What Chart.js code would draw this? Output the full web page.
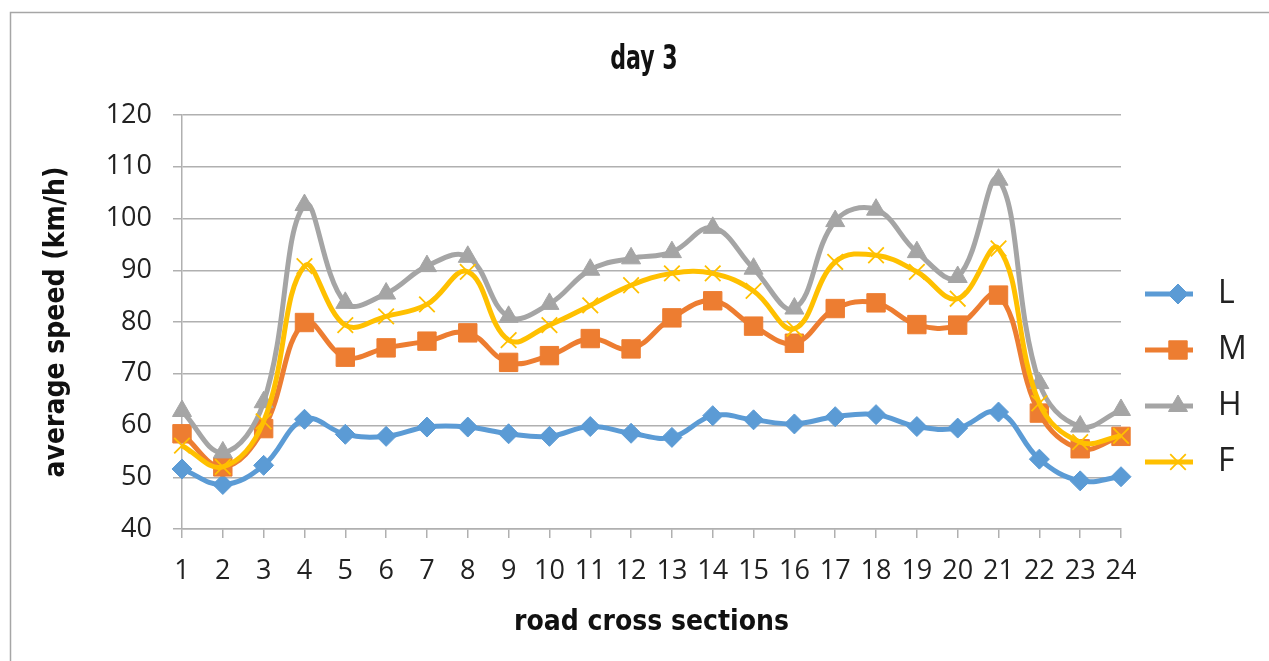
<!DOCTYPE html>
<html>
<head>
<meta charset="utf-8">
<script src="https://cdn.jsdelivr.net/npm/chart.js"></script>
<style>
  html, body { margin: 0; padding: 0; background: #fff; }
  #wrap { width: 1269px; height: 661px; }
</style>
</head>
<body>
<div id="wrap"><canvas id="chart" width="1269" height="661"></canvas></div>
<script>
// values
const sections = ["1","2","3","4","5","6","7","8","9","10","11","12","13","14","15","16","17","18","19","20","21","22","23","24"];
const speedL = [51.6, 48.6, 52.3, 61.2, 58.3, 57.9, 59.7, 59.7, 58.4, 57.9, 59.8, 58.5, 57.7, 61.9, 61.1, 60.3, 61.7, 62.1, 59.8, 59.5, 62.6, 53.5, 49.3, 50.1];
const speedM = [58.4, 52.0, 59.4, 79.9, 73.2, 75.0, 76.3, 77.9, 72.2, 73.5, 76.8, 74.8, 80.8, 84.1, 79.2, 75.9, 82.6, 83.7, 79.5, 79.4, 85.2, 62.4, 55.5, 57.9];
const speedH = [62.8, 54.8, 64.5, 102.6, 83.7, 85.5, 90.8, 92.6, 81.0, 83.5, 90.1, 92.3, 93.5, 98.2, 90.3, 82.6, 99.5, 101.7, 93.5, 88.7, 107.5, 68.2, 59.8, 63.0];
const speedF = [56.1, 52.0, 60.8, 90.8, 79.4, 81.1, 83.4, 89.7, 76.5, 79.4, 83.2, 87.1, 89.4, 89.4, 86.0, 78.7, 91.6, 92.9, 89.7, 84.5, 94.2, 64.3, 56.8, 58.0];
const yMin = 40, yMax = 120, yStep = 10;

const narrow = '"Liberation Sans Narrow", "DejaVu Sans Condensed", "Arial Narrow", sans-serif';
const plain = '"Open Sans", "Liberation Sans", sans-serif';
const gridGrey = "#b0b0b0";

function series(label, data, color, style, radius, order) {
  return {
    label: label,
    data: data,
    borderColor: color,
    backgroundColor: color,
    borderWidth: 5,
    tension: 0.4,
    pointStyle: style,
    pointRadius: radius,
    pointHoverRadius: radius,
    pointBackgroundColor: color,
    pointBorderColor: color,
    pointBorderWidth: style === "crossRot" ? 1.8 : 1,
    clip: false,
    order: order
  };
}

const datasets = [
  series("L", speedL, "#5b9bd5", "rectRot", 10, 4),
  series("M", speedM, "#ed7d31", "rect", 13, 3),
  series("H", speedH, "#a5a5a5", "triangle", 11, 2),
  series("F", speedF, "#ffc000", "crossRot", 11, 1)
];

// frame, chart title and the legend on the right
const decor = {
  id: "decor",
  beforeDraw(chart) {
    const ctx = chart.ctx;
    ctx.save();
    ctx.strokeStyle = "#a6a6a6";
    ctx.lineWidth = 1.5;
    ctx.beginPath();
    ctx.moveTo(10.5, 700);
    ctx.lineTo(10.5, 12.5);
    ctx.lineTo(1300, 12.5);
    ctx.stroke();
    ctx.restore();
  },
  afterDraw(chart) {
    const ctx = chart.ctx;
    ctx.save();
    // narrow bold title, squeezed a little
    ctx.save();
    ctx.translate(644, 60);
    ctx.scale(0.82, 1.1);
    ctx.fillStyle = "#111";
    ctx.font = "bold 30px " + narrow;
    ctx.textAlign = "center";
    ctx.textBaseline = "middle";
    ctx.fillText("day 3", 0, 0);
    ctx.restore();

    const rows = [294, 350, 406, 462];
    chart.data.datasets.forEach((ds, i) => {
      const y = rows[i];
      ctx.strokeStyle = ds.borderColor;
      ctx.lineWidth = 5;
      ctx.beginPath();
      ctx.moveTo(1145, y);
      ctx.lineTo(1193, y);
      ctx.stroke();
      ctx.fillStyle = ds.pointBackgroundColor;
      ctx.strokeStyle = ds.pointBorderColor;
      ctx.lineWidth = ds.pointBorderWidth;
      Chart.helpers.drawPoint(ctx, { pointStyle: ds.pointStyle, radius: ds.pointRadius, borderWidth: ds.pointBorderWidth, rotation: 0 }, 1178, y);
      ctx.fillStyle = "#222";
      ctx.font = "32px " + plain;
      ctx.textAlign = "left";
      ctx.textBaseline = "middle";
      ctx.fillText(ds.label, 1218, y);
    });
    ctx.restore();
  }
};

new Chart(document.getElementById("chart"), {
  type: "line",
  data: { labels: sections, datasets: datasets },
  plugins: [decor],
  options: {
    responsive: false,
    animation: false,
    devicePixelRatio: 1,
    layout: { padding: { top: 115, right: 148, left: 0, bottom: 0 } },
    plugins: {
      legend: { display: false },
      title: { display: false },
      tooltip: { enabled: false }
    },
    scales: {
      x: {
        type: "category",
        offset: false,
        afterFit(scale) { scale.height = 132; },
        grid: { drawOnChartArea: false, drawTicks: true, tickLength: 9, color: gridGrey, lineWidth: 1.5 },
        border: { display: true, color: gridGrey, width: 1.5 },
        ticks: { color: "#222", font: { family: plain, size: 27 }, padding: 17, autoSkip: false, maxRotation: 0 },
        title: { display: true, text: "road cross sections", color: "#111", font: { family: narrow, size: 28, weight: "bold" }, padding: { top: 0, bottom: 21 } }
      },
      y: {
        min: yMin,
        max: yMax,
        afterFit(scale) { scale.width = 182; },
        ticks: { stepSize: yStep, color: "#222", font: { family: plain, size: 27 }, padding: 21 },
        grid: { color: gridGrey, lineWidth: 1.5, tickLength: 9 },
        border: { display: true, color: gridGrey, width: 1.5 },
        title: { display: true, text: "average speed (km/h)", color: "#111", font: { family: narrow, size: 28, weight: "bold" }, padding: { top: 40, bottom: 0 } }
      }
    }
  }
});
</script>
</body>
</html>
